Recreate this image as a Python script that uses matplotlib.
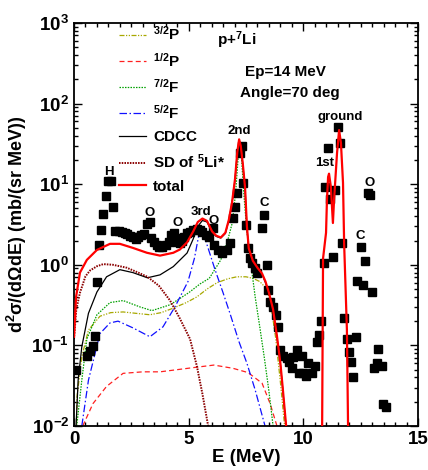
import numpy as np
import matplotlib
matplotlib.use("Agg")
import matplotlib.pyplot as plt
from matplotlib.ticker import MultipleLocator, LogLocator, NullFormatter

# measured spectrum, p + 7Li at Ep = 14 MeV, 70 deg
exp_E = [0.10, 0.58, 0.70, 0.81, 0.93, 1.00, 1.09, 1.18, 1.26, 1.40, 1.48, 1.61, 1.70,
         1.79, 1.96, 2.09, 2.22, 2.31, 2.44, 2.57, 2.70, 2.79, 2.92, 3.05, 3.18, 3.31,
         3.36, 3.49, 3.62, 3.71, 3.84, 4.01, 4.14, 4.23, 4.36, 4.45, 4.49, 4.62, 4.71,
         4.80, 4.93, 5.06, 5.19, 5.36, 5.49, 5.58, 5.76, 5.89, 6.06, 6.11, 6.28, 6.45,
         6.67, 6.80, 6.93, 7.02, 7.11, 7.24, 7.33, 7.37, 7.50, 7.59, 7.68, 7.76, 7.89,
         7.98, 8.20, 8.29, 8.42, 8.46, 8.55, 8.68, 8.81, 8.90, 8.98, 9.11, 9.29, 9.38,
         9.51, 9.55, 9.73, 9.81, 9.94, 9.99, 10.12, 10.20, 10.38, 10.51, 10.60, 10.68,
         10.77, 10.90, 10.95, 11.08, 11.16, 11.30, 11.38, 11.51, 11.60, 11.69, 11.78,
         11.91, 11.99, 12.08, 12.17, 12.30, 12.34, 12.52, 12.60, 12.69, 12.82, 12.91,
         13.00, 13.08, 13.21, 13.26, 13.43, 13.48, 13.61]
exp_y = [0.049, 0.073, 0.086, 0.099, 0.129, 0.62, 1.77, 2.7, 4.3, 7.2, 11.0, 11.0, 5.2,
         2.6, 2.6, 2.57, 2.5, 2.4, 2.3, 2.2, 2.1, 2.2, 2.36, 2.4, 3.2, 3.4,
         2.16, 1.93, 1.77, 1.67, 1.67, 1.77, 1.93, 2.36, 2.5, 2.16, 1.93, 1.87, 1.98,
         2.22, 2.5, 2.57, 2.7, 2.8, 2.7, 2.57, 2.36, 2.22, 2.9, 1.77, 1.53, 1.41,
         1.53, 1.87, 3.8, 5.2, 7.8, 24.5, 30.0, 10.4, 3.1, 1.63, 1.22, 1.06, 0.92,
         0.80, 2.9, 4.2, 1.0, 0.49, 0.35, 0.30, 0.24, 0.17, 0.088, 0.074, 0.070, 0.063,
         0.053, 0.072, 0.088, 0.046, 0.074, 0.046, 0.042, 0.061, 0.046, 0.056, 0.11, 0.135,
         0.20, 1.06, 9.3, 28.3, 6.6, 1.26, 8.5, 51.6, 32.5, 1.87, 0.22,
         0.12, 0.083, 0.063, 0.041, 0.128, 0.63, 1.67, 0.565, 1.12, 7.8, 7.4,
         0.46, 0.053, 0.061, 0.09, 0.056, 0.019, 0.017]

# calculated components
p32_E = [0.10, 0.13, 0.34, 0.63, 1.13, 1.60, 2.14, 2.70, 3.31, 3.80, 4.33, 4.90, 5.36,
         5.80, 6.24, 6.70, 7.10, 7.50, 7.80, 8.10, 8.30, 8.45, 8.60, 8.80, 9.00, 9.20]
p32_y = [0.008, 0.023, 0.072, 0.155, 0.23, 0.255, 0.26, 0.25, 0.24, 0.255, 0.29, 0.34, 0.40,
         0.50, 0.60, 0.67, 0.71, 0.71, 0.68, 0.62, 0.54, 0.45, 0.30, 0.12, 0.035, 0.009]

p12_E = [0.38, 0.83, 1.42, 2.14, 3.00, 3.75, 4.50, 5.20, 6.10, 6.93, 7.59, 8.20, 8.55, 8.85]
p12_y = [0.01, 0.019, 0.031, 0.045, 0.047, 0.047, 0.050, 0.053, 0.057, 0.052, 0.046,
         0.034, 0.019, 0.01]

f72_E = [0.12, 0.34, 0.56, 1.00, 1.57, 2.14, 2.88, 3.40, 4.20, 5.00, 5.50, 5.90, 6.40,
         6.70, 6.90, 7.05, 7.15, 7.22, 7.30, 7.40, 7.50, 7.60, 7.75, 7.90, 8.10, 8.30,
         8.50, 8.70]
f72_y = [0.01, 0.037, 0.12, 0.24, 0.34, 0.36, 0.30, 0.27, 0.32, 0.45, 0.58, 0.68, 1.15,
         2.0, 3.3, 8.0, 20.0, 32.0, 22.0, 8.0, 3.5, 1.8, 0.85, 0.40, 0.17, 0.07,
         0.027, 0.009]

f52_E = [0.34, 0.63, 1.13, 1.57, 1.92, 2.57, 3.31, 3.88, 4.40, 4.97, 5.25, 5.45, 5.55,
         5.65, 5.85, 6.15, 6.50, 6.80, 7.20, 7.54, 7.90, 8.33]
f52_y = [0.01, 0.037, 0.14, 0.19, 0.20, 0.165, 0.128, 0.17, 0.30, 0.62, 1.2, 2.4, 2.7,
         2.4, 1.6, 0.87, 0.45, 0.25, 0.11, 0.06, 0.028, 0.01]

cdcc_E = [0.09, 0.18, 0.34, 0.63, 1.00, 1.42, 2.00, 2.57, 3.20, 3.75, 4.33, 4.93, 5.20,
          5.40, 5.60, 5.80, 6.02, 6.20, 6.40, 6.60, 6.75, 6.89, 7.02, 7.12, 7.20, 7.27,
          7.36, 7.46, 7.54, 7.62, 7.80, 8.00, 8.20, 8.35, 8.50, 8.68, 8.85, 9.00, 9.10,
          9.25]
cdcc_y = [0.01, 0.037, 0.096, 0.25, 0.46, 0.71, 0.87, 0.80, 0.69, 0.75, 0.95, 1.4, 2.1,
          3.0, 3.55, 3.4, 2.55, 2.25, 2.15, 2.45, 3.55, 5.8, 11.3, 24.5, 35.0, 29.5,
          17.5, 8.8, 2.9, 1.55, 1.1, 0.9, 0.76, 0.6, 0.44, 0.27, 0.125, 0.058, 0.029,
          0.0095]

sd_E = [0.00, 0.10, 0.26, 0.50, 0.70, 1.00, 1.28, 1.70, 2.30, 2.80, 3.20, 3.70, 4.19,
        4.60, 5.06, 5.36, 5.60, 5.85, 5.90]
sd_y = [0.12, 0.28, 0.45, 0.72, 0.85, 0.96, 1.02, 1.00, 0.92, 0.80, 0.71, 0.55, 0.36,
        0.22, 0.12, 0.055, 0.025, 0.01, 0.008]

# total = continuum part, then the ground/1st doublet
tot_E = [0.00, 0.09, 0.26, 0.56, 1.00, 1.57, 2.00, 2.57, 3.18, 3.75, 4.33, 4.62, 4.93,
         5.20, 5.40, 5.60, 5.80, 6.02, 6.20, 6.40, 6.60, 6.75, 6.89, 7.02, 7.12, 7.20,
         7.27, 7.36, 7.46, 7.54, 7.62, 7.80, 8.00, 8.20, 8.35, 8.50, 8.68, 8.85, 9.00,
         9.10, 9.25, 9.30, np.nan,
         10.78, 10.82, 10.86, 10.99, 11.03, 11.08, 11.12, 11.20, 11.29, 11.34, 11.47,
         11.56, 11.64, 11.73, 11.78, 11.90, 11.95, 11.97]
tot_y = [0.128, 0.4, 0.8, 1.15, 1.53, 1.82, 1.82, 1.62, 1.41, 1.3, 1.41, 1.55, 1.9,
         2.6, 3.4, 3.75, 3.5, 2.6, 2.3, 2.18, 2.5, 3.6, 5.9, 11.5, 25.0, 36.0,
         30.0, 18.0, 9.0, 3.0, 1.6, 1.12, 0.92, 0.78, 0.62, 0.45, 0.28, 0.13, 0.06,
         0.03, 0.01, 0.007, np.nan,
         0.007, 0.01, 1.2, 2.5, 6.4, 12.3, 13.5, 9.3, 3.3, 6.4, 24.5,
         47.0, 32.5, 10.4, 1.8, 0.156, 0.01, 0.007]

# state labels on the spectrum
lab_text = ['H', 'O', 'O', '3rd', 'O', '2nd', 'C', 'ground', '1st', 'O', 'C']
lab_E = [1.53, 3.31, 4.54, 5.54, 6.10, 7.20, 8.29, 11.60, 10.95, 12.87, 12.47]
lab_y = [14.3, 4.4, 3.3, 4.5, 3.5, 46.0, 5.9, 69.0, 18.4, 10.4, 2.3]

plt.rcParams.update({
    'font.family': 'Liberation Sans',
    'font.weight': 'bold',
    'axes.labelweight': 'bold',
    'mathtext.fontset': 'custom',
    'mathtext.rm': 'Liberation Sans:bold',
    'mathtext.it': 'Liberation Sans:bold',
    'mathtext.bf': 'Liberation Sans:bold',
    'mathtext.default': 'rm',
    'axes.linewidth': 1.3,
})

fig = plt.figure(figsize=(4.28, 4.70), dpi=100)
ax = fig.add_axes([74/428, 44/470, 344/428, 403/470])

lw = 0.9
ax.plot(p32_E, p32_y, color='#a8a800', lw=lw, dashes=(4, 1.2, 1, 1.2, 1, 1.2), label='$^{3/2}$P')
ax.plot(p12_E, p12_y, color='#ff2020', lw=lw, dashes=(4, 2.5), label='$^{1/2}$P')
ax.plot(f72_E, f72_y, color='#00a000', lw=lw, dashes=(1.2, 1.0), label='$^{7/2}$F')
ax.plot(f52_E, f52_y, color='#1010ff', lw=lw, dashes=(6, 2, 1.2, 2), label='$^{5/2}$F')
ax.plot(cdcc_E, cdcc_y, color='black', lw=lw, label='CDCC')
ax.plot(sd_E, sd_y, color='#8b0000', lw=1.4, dashes=(0.8, 0.6), label='SD of $^{5}$Li*')
ax.plot(exp_E, exp_y, 's', color='black', ms=5.5, zorder=3)
ax.plot(tot_E, tot_y, color='red', lw=1.6, zorder=4, label='total')

for t, e, y in zip(lab_text, lab_E, lab_y):
    ax.text(e, y, t, fontsize=9.5, ha='center', va='center')

ax.text(0.474, 0.958, 'p+$^{7}$Li', transform=ax.transAxes, fontsize=11, ha='center', va='center')
ax.text(0.616, 0.878, 'Ep=14 MeV', transform=ax.transAxes, fontsize=11, ha='center', va='center')
ax.text(0.628, 0.826, 'Angle=70 deg', transform=ax.transAxes, fontsize=11, ha='center', va='center')

ax.set_yscale('log')
ax.set_xlim(0, 15)
ax.set_ylim(1e-2, 1e3)
ax.xaxis.set_major_locator(MultipleLocator(5))
ax.xaxis.set_minor_locator(MultipleLocator(0.5))
ax.yaxis.set_major_locator(LogLocator(base=10, numticks=10))
ax.yaxis.set_minor_locator(LogLocator(base=10, subs=np.arange(2, 10), numticks=20))
ax.yaxis.set_minor_formatter(NullFormatter())
ax.tick_params(which='both', direction='in', top=True, right=True, labelsize=13.5, width=1.0)
ax.tick_params(which='major', length=6)
ax.tick_params(which='minor', length=3)

ax.set_xlabel('E (MeV)', fontsize=13.5, labelpad=1)
ax.set_ylabel('d$^2$σ/(dΩdE) (mb/(sr MeV))', fontsize=13, labelpad=2)

handles, labels = ax.get_legend_handles_labels()
ax.legend(handles, labels, loc='upper left', bbox_to_anchor=(0.13, 0.995), frameon=False,
          fontsize=11, handlelength=1.8, handletextpad=0.45, labelspacing=0.55,
          borderpad=0, borderaxespad=0)

fig.savefig('out.png', dpi=100)
